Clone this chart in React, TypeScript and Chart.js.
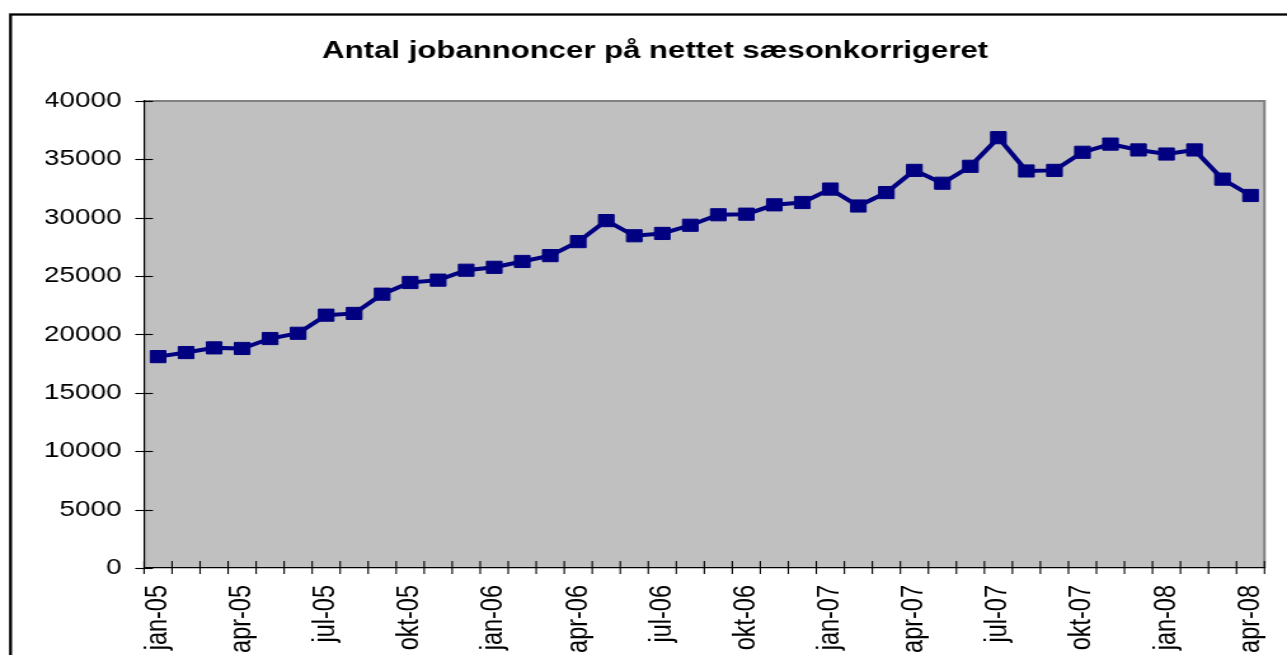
import React, { useEffect, useRef } from "react";
import { Chart, registerables } from "chart.js";

Chart.register(...registerables);

// ---- data ----
const months: string[] = [
  "jan-05", "feb-05", "mar-05", "apr-05", "maj-05", "jun-05", "jul-05", "aug-05", "sep-05", "okt-05", "nov-05", "dec-05",
  "jan-06", "feb-06", "mar-06", "apr-06", "maj-06", "jun-06", "jul-06", "aug-06", "sep-06", "okt-06", "nov-06", "dec-06",
  "jan-07", "feb-07", "mar-07", "apr-07", "maj-07", "jun-07", "jul-07", "aug-07", "sep-07", "okt-07", "nov-07", "dec-07",
  "jan-08", "feb-08", "mar-08", "apr-08",
];

const jobAds: number[] = [
  18100, 18450, 18850, 18800, 19650, 20100, 21650, 21800, 23450, 24450, 24650, 25500,
  25750, 26250, 26750, 27950, 29750, 28450, 28650, 29350, 30250, 30300, 31100, 31300,
  32450, 31000, 32150, 34050, 32950, 34400, 36850, 34000, 34050, 35600, 36300, 35800,
  35450, 35800, 33300, 31900,
];

const yMin = 0;
const yMax = 40000;
const yStep = 5000;
const labelEvery = 3;
const titleText = "Antal jobannoncer på nettet sæsonkorrigeret";

// ---- layout ----
const PAGE_W = 1287;
const PAGE_H = 655;
const STRETCH = 1.27;
const W = Math.round(PAGE_W / STRETCH);
const PAD_L = 36;
const PAD_R = 17.7;
const FONT = "'Liberation Sans', Arial, sans-serif";

export default function App() {
  const canvasRef = useRef<HTMLCanvasElement | null>(null);

  useEffect(() => {
    const canvas = canvasRef.current;
    if (!canvas) return;

    const decor = {
      id: "decor",
      beforeDraw(chart: any) {
        const { ctx, chartArea: a } = chart;
        ctx.save();
        ctx.fillStyle = "#ffffff";
        ctx.fillRect(0, 0, chart.width, chart.height);
        ctx.fillStyle = "#C0C0C0";
        ctx.fillRect(a.left, a.top, a.right - a.left, a.bottom - a.top);
        ctx.strokeStyle = "#808080";
        ctx.lineWidth = 2;
        ctx.beginPath();
        ctx.moveTo(a.left, a.top);
        ctx.lineTo(a.right, a.top);
        ctx.lineTo(a.right, a.bottom);
        ctx.stroke();
        ctx.restore();
      },
      afterDraw(chart: any) {
        const { ctx, chartArea: a } = chart;
        const xs = chart.scales.x;
        const ys = chart.scales.y;
        ctx.save();
        ctx.strokeStyle = "#000000";
        ctx.lineWidth = 1.1;
        ys.ticks.forEach((_t: any, i: number) => {
          const y = Math.round(ys.getPixelForTick(i)) + 0.5;
          ctx.beginPath();
          ctx.moveTo(a.left - 7, y);
          ctx.lineTo(a.left + 7, y);
          ctx.stroke();
        });
        const n = months.length;
        const half = (xs.getPixelForValue(1) - xs.getPixelForValue(0)) / 2;
        for (let i = 0; i <= n; i++) {
          const x = i < n ? xs.getPixelForValue(i) - half : xs.getPixelForValue(n - 1) + half;
          ctx.beginPath();
          ctx.moveTo(x, a.bottom - 7);
          ctx.lineTo(x, a.bottom + 6);
          ctx.stroke();
        }
        ctx.lineWidth = 2.3;
        ctx.strokeRect(8.3, 14.5, chart.width + 50, chart.height + 50);
        ctx.restore();
      },
    };

    const chart = new Chart(canvas, {
      type: "line",
      data: {
        labels: months,
        datasets: [
          {
            label: "Jobannoncer",
            data: jobAds,
            borderColor: "#000080",
            backgroundColor: "#000080",
            borderWidth: 4,
            pointStyle: "rect",
            pointRadius: 8.6,
            pointBorderWidth: 1,
            pointBackgroundColor: "#000080",
            pointBorderColor: "#000080",
            tension: 0,
            fill: false,
          },
        ],
      },
      plugins: [decor],
      options: {
        responsive: false,
        animation: false,
        devicePixelRatio: 1,
        layout: { padding: { left: PAD_L, right: PAD_R, top: 0, bottom: 0 } },
        plugins: {
          legend: { display: false },
          tooltip: { enabled: false },
          title: {
            display: true,
            text: titleText,
            color: "#000000",
            font: { family: FONT, size: 24.5, weight: "bold" },
            padding: { top: 36.5, bottom: 35 },
          },
        },
        scales: {
          x: {
            type: "category",
            offset: true,
            grid: {
              offset: true,
              drawOnChartArea: false,
              drawTicks: true,
              tickLength: 7,
              tickColor: "rgba(0,0,0,0)",
            },
            border: { color: "#000000", width: 1.2 },
            ticks: {
              autoSkip: false,
              minRotation: 90,
              maxRotation: 90,
              padding: 10,
              color: "#000000",
              font: { family: FONT, size: 23.5 },
              callback: (_v: any, i: number) => (i % labelEvery === 0 ? months[i] : ""),
            },
            afterFit: (s: any) => {
              s.height = 87;
              s.paddingLeft = 0;
              s.paddingRight = 0;
            },
          },
          y: {
            min: yMin,
            max: yMax,
            grid: {
              drawOnChartArea: false,
              drawTicks: true,
              tickLength: 7,
              tickColor: "rgba(0,0,0,0)",
            },
            border: { color: "#000000", width: 1.2 },
            ticks: {
              stepSize: yStep,
              padding: 10.7,
              color: "#000000",
              font: { family: FONT, size: 22 },
              callback: (v: any) => String(v),
            },
            afterFit: (s: any) => {
              s.width = 113.4 - PAD_L;
            },
          },
        },
      },
    });

    return () => {
      chart.destroy();
    };
  }, []);

  return (
    <div
      style={{
        position: "absolute",
        left: 0,
        top: 0,
        width: PAGE_W,
        height: PAGE_H,
        overflow: "hidden",
        background: "#ffffff",
      }}
    >
      <div
        style={{
          width: W,
          height: PAGE_H,
          transform: `scaleX(${PAGE_W / W})`,
          transformOrigin: "0 0",
        }}
      >
        <canvas ref={canvasRef} width={W} height={PAGE_H} style={{ width: W, height: PAGE_H, display: "block" }} />
      </div>
    </div>
  );
}
